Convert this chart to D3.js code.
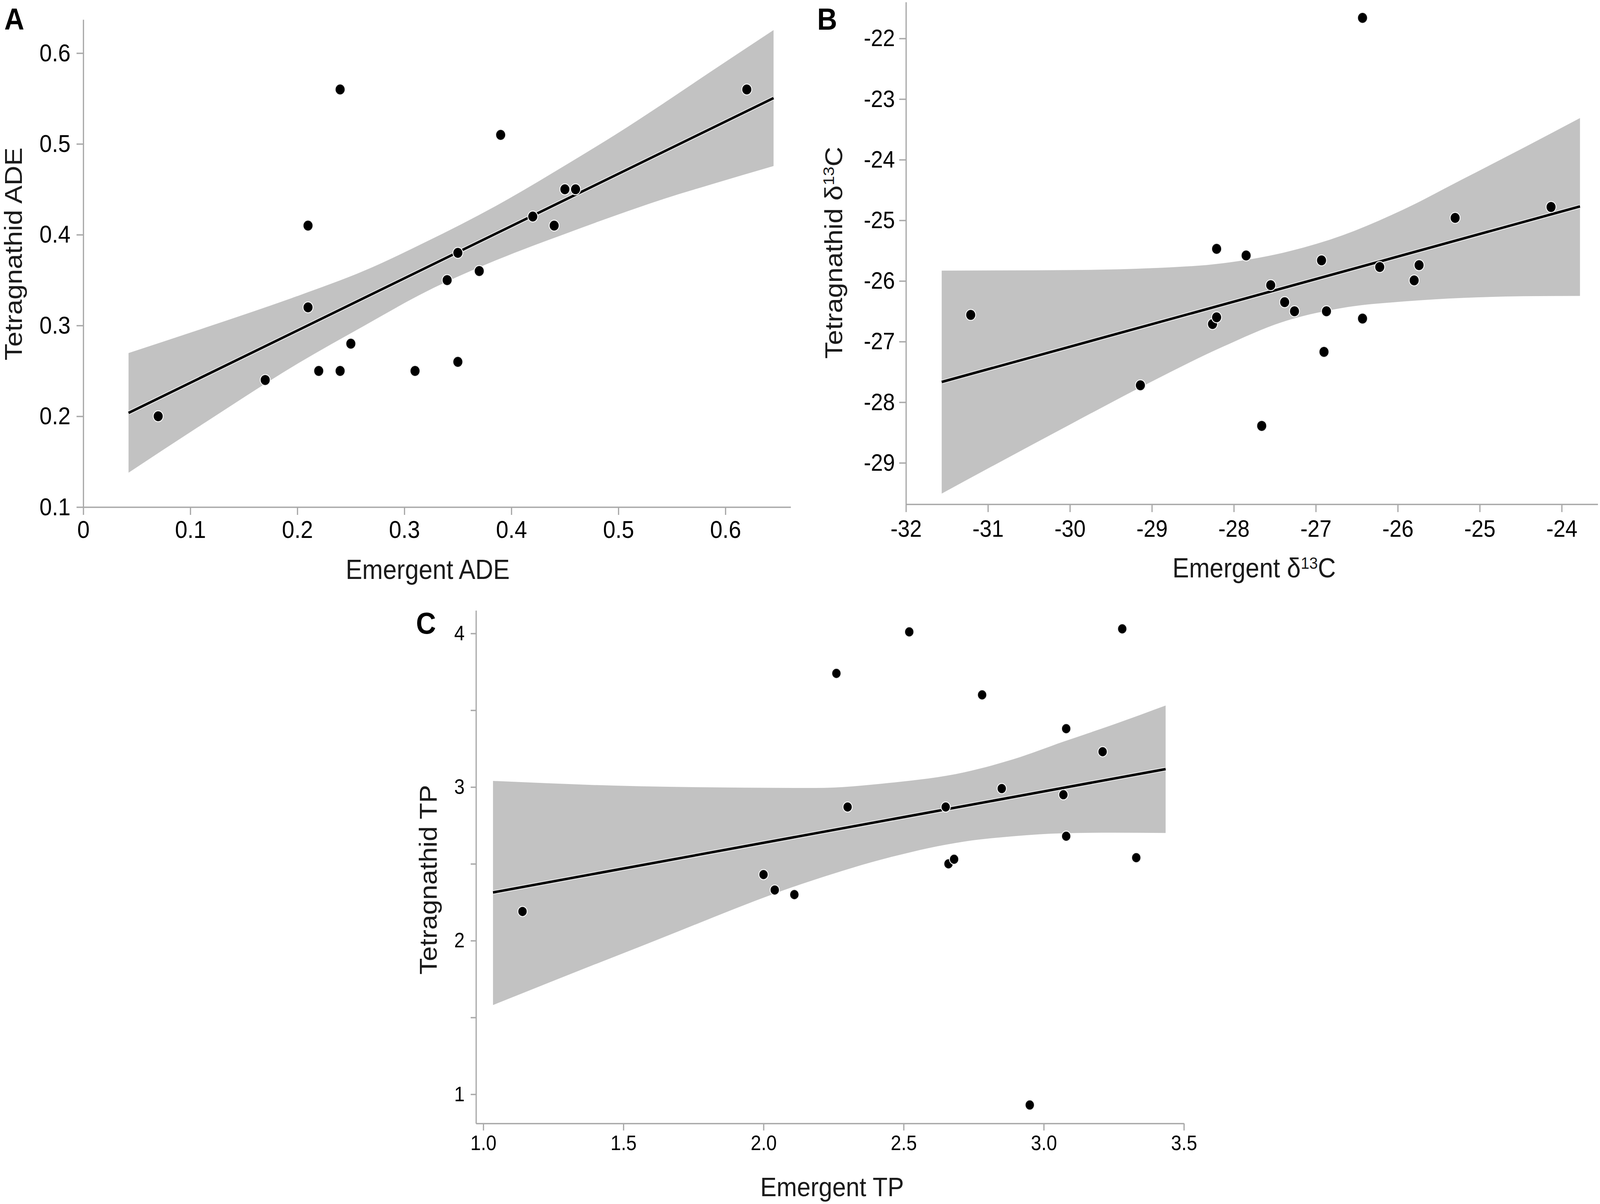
<!DOCTYPE html>
<html>
<head>
<meta charset="utf-8">
<script src="https://cdn.jsdelivr.net/npm/d3@7"></script>
<style>
  html, body { margin: 0; padding: 0; background: #fff; overflow: hidden; width: 100%; height: 100%; }
  svg { display: block; width: 100vw; height: 100vh; }
  text { font-family: "Liberation Sans", Arial, Helvetica, sans-serif; }
</style>
</head>
<body>
<svg id="chart" viewBox="0 0 4515 3082" preserveAspectRatio="none"></svg>
<script>
// ---------- Panel A : ADE ----------
const A_emergent = [0.07, 0.17, 0.21, 0.21, 0.22, 0.24, 0.24, 0.25, 0.31, 0.34, 0.35, 0.35, 0.37, 0.39, 0.42, 0.44, 0.45, 0.46, 0.62];
const A_tetra    = [0.20, 0.24, 0.41, 0.32, 0.25, 0.56, 0.25, 0.28, 0.25, 0.35, 0.38, 0.26, 0.36, 0.51, 0.42, 0.41, 0.45, 0.45, 0.56];
const A_fitX   = [0.0423, 0.645];
const A_fitY   = [0.2037, 0.5505];
const A_bandX  = [0.0423, 0.115, 0.1996, 0.2629, 0.3195, 0.386, 0.4526, 0.4969, 0.5413, 0.5856, 0.645];
const A_bandHi = [0.2696, 0.298, 0.3322, 0.3605, 0.3917, 0.432, 0.478, 0.510, 0.544, 0.579, 0.6254];
const A_bandLo = [0.1379, 0.194, 0.2575, 0.300, 0.3368, 0.372, 0.402, 0.421, 0.439, 0.455, 0.4756];
const A_xTicks = [0, 0.1, 0.2, 0.3, 0.4, 0.5, 0.6];
const A_xTickLabels = ["0", "0.1", "0.2", "0.3", "0.4", "0.5", "0.6"];
const A_yTicks = [0.1, 0.2, 0.3, 0.4, 0.5, 0.6];
const A_yTickLabels = ["0.1", "0.2", "0.3", "0.4", "0.5", "0.6"];

// ---------- Panel B : d13C ----------
const B_emergent = [-31.21, -29.14, -28.26, -28.21, -28.21, -27.85, -27.55, -27.38, -27.26, -26.93, -26.87, -26.90, -26.43, -26.43, -26.22, -25.74, -25.80, -25.30, -24.13, -27.66];
const B_tetra    = [-26.56, -27.72, -26.71, -26.60, -25.47, -25.58, -26.07, -26.35, -26.50, -25.66, -26.50, -27.17, -21.66, -26.62, -25.77, -25.74, -25.99, -24.96, -24.78, -28.39];
const B_fitX   = [-31.564, -23.777];
const B_fitY   = [-27.666, -24.771];
const B_bandX  = [-31.564, -29.979, -29.014, -28.139, -27.403, -26.669, -25.935, -25.200, -24.467, -23.777];
const B_bandHi = [-25.829, -25.820, -25.790, -25.708, -25.536, -25.245, -24.824, -24.316, -23.804, -23.314];
const B_bandLo = [-29.507, -28.353, -27.667, -27.088, -26.675, -26.443, -26.339, -26.279, -26.252, -26.246];
const B_xTicks = [-32, -31, -30, -29, -28, -27, -26, -25, -24];
const B_xTickLabels = ["-32", "-31", "-30", "-29", "-28", "-27", "-26", "-25", "-24"];
const B_yTicks = [-29, -28, -27, -26, -25, -24, -23, -22];
const B_yTickLabels = ["-29", "-28", "-27", "-26", "-25", "-24", "-23", "-22"];

// ---------- Panel C : TP ----------
const C_emergent = [1.14, 2.00, 2.04, 2.11, 2.26, 2.30, 2.52, 2.65, 2.66, 2.68, 2.78, 2.85, 2.95, 3.07, 3.08, 3.08, 3.21, 3.28, 3.33];
const C_tetra    = [2.19, 2.43, 2.33, 2.30, 3.74, 2.87, 4.01, 2.87, 2.50, 2.53, 3.60, 2.99, 0.93, 2.95, 3.38, 2.68, 3.23, 4.03, 2.54];
const C_fitX   = [1.0347, 3.4348];
const C_fitY   = [2.314, 3.117];
const C_bandX  = [1.0347, 1.5645, 2.1839, 2.4498, 2.7161, 2.8935, 3.071, 3.2484, 3.4348];
const C_bandHi = [3.040, 3.005, 2.994, 3.027, 3.096, 3.182, 3.296, 3.407, 3.531];
const C_bandLo = [1.581, 1.965, 2.398, 2.542, 2.645, 2.680, 2.699, 2.703, 2.701];
const C_xTicks = [1.0, 1.5, 2.0, 2.5, 3.0, 3.5];
const C_xTickLabels = ["1.0", "1.5", "2.0", "2.5", "3.0", "3.5"];
const C_yTicks = [1, 1.5, 2, 2.5, 3, 3.5, 4];
const C_yTickLabels = ["1", "", "2", "", "3", "", "4"];

const svg = d3.select("#chart");
svg.append("rect").attr("width", 4515).attr("height", 3082).attr("fill", "#fff");

const AXIS_COLOR = "#a9a9a9";

function drawPanel(cfg) {
  const g = svg.append("g");
  const x = d3.scaleLinear().domain(cfg.xDomain).range(cfg.xRange);
  const y = d3.scaleLinear().domain(cfg.yDomain).range(cfg.yRange);

  // axes
  const xAxis = d3.axisBottom(x)
    .tickValues(cfg.xTicks)
    .tickFormat((d, i) => cfg.xTickLabels[i])
    .tickSize(cfg.xTickLen).tickSizeOuter(0).tickPadding(cfg.xPad);
  const yAxis = d3.axisLeft(y)
    .tickValues(cfg.yTicks)
    .tickFormat((d, i) => cfg.yTickLabels[i])
    .tickSize(cfg.yTickLen).tickSizeOuter(0).tickPadding(cfg.yPad);

  const gx = g.append("g").attr("transform", `translate(0,${y(cfg.yDomain[0])})`).call(xAxis);
  const gy = g.append("g").attr("transform", `translate(${x(cfg.xDomain[0])},0)`).call(yAxis);
  [gx, gy].forEach(ax => {
    ax.select(".domain").attr("stroke", AXIS_COLOR).attr("stroke-width", 3.5);
    ax.selectAll(".tick line").attr("stroke", AXIS_COLOR).attr("stroke-width", 3.5);
    ax.selectAll(".tick text").attr("fill", "#000")
      .attr("font-size", cfg.tickFont)
      .attr("font-family", '"Liberation Sans", Arial, sans-serif');
  });

  // confidence band
  const band = cfg.bandX.map((v, i) => ({ x: v, lo: cfg.bandLo[i], hi: cfg.bandHi[i] }));
  g.append("path").datum(band)
    .attr("d", d3.area().x(d => x(d.x)).y0(d => y(d.lo)).y1(d => y(d.hi)).curve(d3.curveMonotoneX))
    .attr("fill", "#c2c2c2");

  // regression line
  const fit = cfg.fitX.map((v, i) => ({ x: v, y: cfg.fitY[i] }));
  const lineGen = d3.line().x(d => x(d.x)).y(d => y(d.y));
  g.append("path").datum(fit).attr("d", lineGen)
    .attr("fill", "none").attr("stroke", "#e6e6e6").attr("stroke-width", 11);
  g.append("path").datum(fit).attr("d", lineGen)
    .attr("fill", "none").attr("stroke", "#000").attr("stroke-width", 6.5);

  // points
  const pts = cfg.px.map((v, i) => ({ x: v, y: cfg.py[i] }));
  g.selectAll("circle.pt").data(pts).enter().append("circle")
    .attr("class", "pt")
    .attr("cx", d => x(d.x)).attr("cy", d => y(d.y))
    .attr("r", cfg.r)
    .attr("fill", "#000").attr("stroke", "#f2f2f2").attr("stroke-width", 2.5);

  // panel letter
  g.append("text").attr("x", cfg.letterPos[0]).attr("y", cfg.letterPos[1])
    .attr("font-size", 78).attr("font-weight", "bold").attr("fill", "#000")
    .text(cfg.letter);

  // x title
  const xt = g.append("text").attr("x", cfg.xTitlePos[0]).attr("y", cfg.xTitlePos[1])
    .attr("text-anchor", "middle").attr("font-size", cfg.titleFont).attr("fill", "#1a1a1a");
  cfg.xTitle.forEach(part => {
    const t = xt.append("tspan").text(part.t);
    if (part.sup) t.attr("font-size", cfg.titleFont * 0.62).attr("dy", -cfg.titleFont * 0.32);
    else if (part.after) t.attr("dy", cfg.titleFont * 0.32);
  });

  // y title
  const yt = g.append("text")
    .attr("transform", `translate(${cfg.yTitlePos[0]},${cfg.yTitlePos[1]}) rotate(-90)`)
    .attr("text-anchor", "middle").attr("font-size", cfg.titleFont).attr("fill", "#1a1a1a");
  cfg.yTitle.forEach(part => {
    const t = yt.append("tspan").text(part.t);
    if (part.sup) t.attr("font-size", cfg.titleFont * 0.62).attr("dy", -cfg.titleFont * 0.32);
    else if (part.after) t.attr("dy", cfg.titleFont * 0.32);
  });
}

drawPanel({
  px: A_emergent, py: A_tetra,
  fitX: A_fitX, fitY: A_fitY,
  bandX: A_bandX, bandLo: A_bandLo, bandHi: A_bandHi,
  xTicks: A_xTicks, xTickLabels: A_xTickLabels,
  yTicks: A_yTicks, yTickLabels: A_yTickLabels,
  xDomain: [0, 0.661], xRange: [235, 2231.2],
  yDomain: [0.1, 0.637], yRange: [1298, 50],
  xTickLen: 20, xPad: 14, yTickLen: 19, yPad: 17,
  tickFont: 63, titleFont: 70, r: 14,
  letter: "A", letterPos: [12, 76],
  xTitle: [{ t: "Emergent ADE" }], xTitlePos: [1207, 1482],
  yTitle: [{ t: "Tetragnathid ADE" }], yTitlePos: [62, 650]
});

drawPanel({
  px: B_emergent, py: B_tetra,
  fitX: B_fitX, fitY: B_fitY,
  bandX: B_bandX, bandLo: B_bandLo, bandHi: B_bandHi,
  xTicks: B_xTicks, xTickLabels: B_xTickLabels,
  yTicks: B_yTicks, yTickLabels: B_yTickLabels,
  xDomain: [-32, -23.56], xRange: [2556.5, 4508.7],
  yDomain: [-29.683, -21.40], yRange: [1290.8, 5.3],
  xTickLen: 20, xPad: 20, yTickLen: 19, yPad: 12,
  tickFont: 61, titleFont: 70, r: 14,
  letter: "B", letterPos: [2306, 76],
  xTitle: [{ t: "Emergent δ" }, { t: "13", sup: true }, { t: "C", after: true }], xTitlePos: [3539, 1478],
  yTitle: [{ t: "Tetragnathid δ" }, { t: "13", sup: true }, { t: "C", after: true }], yTitlePos: [2376, 647]
});

drawPanel({
  px: C_emergent, py: C_tetra,
  fitX: C_fitX, fitY: C_fitY,
  bandX: C_bandX, bandLo: C_bandLo, bandHi: C_bandHi,
  xTicks: C_xTicks, xTickLabels: C_xTickLabels,
  yTicks: C_yTicks, yTickLabels: C_yTickLabels,
  xDomain: [0.974, 3.5], xRange: [1343.2, 3340.8],
  yDomain: [0.81, 4.15], yRange: [2875.8, 1562.5],
  xTickLen: 18, xPad: 13, yTickLen: 15, yPad: 17,
  tickFont: 53, titleFont: 69, r: 13,
  letter: "C", letterPos: [1174, 1622],
  xTitle: [{ t: "Emergent TP" }], xTitlePos: [2348, 3062],
  yTitle: [{ t: "Tetragnathid TP" }], yTitlePos: [1232, 2252]
});
</script>
</body>
</html>
